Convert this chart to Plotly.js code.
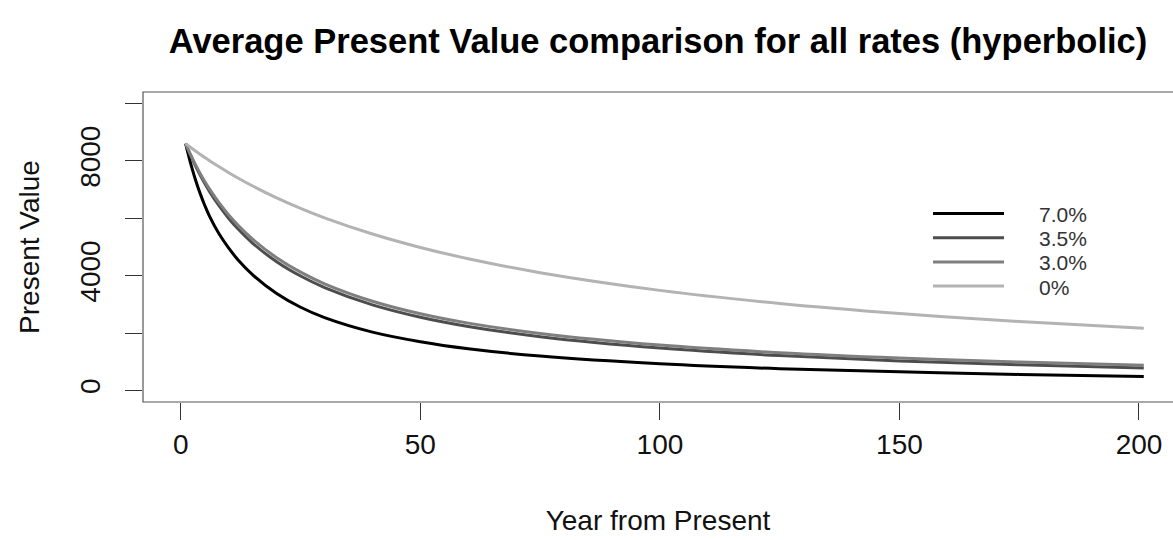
<!DOCTYPE html>
<html>
<head>
<meta charset="utf-8">
<script src="https://cdn.plot.ly/plotly-3.0.1.min.js"></script>
<style>
  html, body { margin: 0; padding: 0; background: #ffffff; }
  #chart { width: 1173px; height: 540px; }
</style>
</head>
<body>
<div id="chart"></div>
<script>
// Years from present (x values)
const years = [1, 2, 3, 4, 5, 6, 8, 10, 12, 15, 20, 25, 30, 40, 50, 60, 75, 100, 125, 150, 175, 201];

// Present value series
const pv7_0 = [8600, 7937, 7369, 6877, 6447, 6067, 5450, 4960, 4540, 4030, 3380, 2900, 2540, 2035, 1700, 1455, 1200, 930, 760, 655, 560, 488];
const pv3_5 = [8600, 8206, 7845, 7516, 7211, 6930, 6429, 5995, 5616, 5130, 4487, 3988, 3588, 2986, 2555, 2233, 1875, 1477, 1216, 1032, 895, 786];
const pv3_0 = [8600, 8226, 7885, 7571, 7281, 7015, 6534, 6115, 5746, 5270, 4627, 4123, 3718, 3111, 2675, 2348, 1985, 1582, 1316, 1130, 990, 878];
const pv0_0 = [8600, 8475, 8353, 8234, 8119, 8008, 7793, 7589, 7396, 7124, 6712, 6346, 6017, 5453, 4985, 4591, 4105, 3489, 3033, 2683, 2405, 2172];

const seriesNames = ["7.0%", "3.5%", "3.0%", "0%"];
const seriesValues = [pv7_0, pv3_5, pv3_0, pv0_0];
const seriesColors = ["#000000", "#4d4d4d", "#7f7f7f", "#b3b3b3"];

// Axis tick labels
const xTickVals = [0, 50, 100, 150, 200];
const xTickText = ["0", "50", "100", "150", "200"];
const yTickVals = [0, 2000, 4000, 6000, 8000, 10000];
const yTickText = ["0", "", "4000", "", "8000", ""];

const FONT = "Liberation Sans, Arial, Helvetica, sans-serif";

const traces = seriesValues.map((vals, i) => ({
  type: "scatter",
  mode: "lines",
  x: years,
  y: vals,
  name: seriesNames[i],
  line: { color: seriesColors[i], width: 3, shape: "spline", smoothing: 1 },
  showlegend: false,
  hoverinfo: "x+y+name"
}));

// Plot geometry (pixels) used to place the drawn legend
const W = 1173, H = 540;
const mL = 143, mR = 0, mT = 92, mB = 138;
const pw = W - mL - mR, ph = H - mT - mB;
const px = v => (v - mL) / pw;
const py = v => (H - mB - v) / ph;

const shapes = [
  { type: "rect", xref: "paper", yref: "paper", x0: 0, x1: 1.05, y0: 0, y1: 1,
    line: { color: "#555555", width: 1.2 }, fillcolor: "rgba(0,0,0,0)", layer: "above" }
];
const annotations = [];
const legTop = 213.5, legStep = 24.2;
seriesNames.forEach((nm, i) => {
  const yy = legTop + i * legStep;
  shapes.push({ type: "line", xref: "paper", yref: "paper",
    x0: px(933), x1: px(1004), y0: py(yy), y1: py(yy),
    line: { color: seriesColors[i], width: 3 } });
  annotations.push({ xref: "paper", yref: "paper", x: px(1037), y: py(yy + 1),
    xanchor: "left", yanchor: "middle", showarrow: false, text: nm,
    font: { family: FONT, size: 21, color: "#333333" } });
});

const layout = {
  width: W, height: H,
  margin: { l: mL, r: mR, t: mT, b: mB, pad: 0 },
  paper_bgcolor: "#ffffff",
  plot_bgcolor: "#ffffff",
  font: { family: FONT, color: "#111111", size: 28 },
  title: {
    text: "<b>Average Present Value comparison for all rates (hyperbolic)</b>",
    font: { family: FONT, size: 34.5, color: "#000000" },
    xref: "paper", x: 0.5, xanchor: "center",
    yref: "container", y: 1 - 41 / H, yanchor: "middle"
  },
  xaxis: {
    range: [-7.9, 207.1],
    tickvals: xTickVals, ticktext: xTickText,
    ticks: "outside", ticklen: 17, tickwidth: 1, tickcolor: "#333333",
    showgrid: false, zeroline: false, showline: false,
    tickfont: { family: FONT, size: 28, color: "#111111" },
    title: { text: "Year from Present", font: { family: FONT, size: 28, color: "#111111" }, standoff: 51 }
  },
  yaxis: {
    range: [-400, 10400],
    tickvals: yTickVals, ticktext: yTickText,
    ticks: "outside", ticklen: 17, tickwidth: 1, tickcolor: "#333333",
    tickangle: -90, ticklabelstandoff: 14,
    showgrid: false, zeroline: false, showline: false,
    tickfont: { family: FONT, size: 28, color: "#111111" },
    title: { text: "Present Value", font: { family: FONT, size: 28, color: "#111111" }, standoff: 26 }
  },
  shapes: shapes,
  annotations: annotations,
  showlegend: false
};

Plotly.newPlot("chart", traces, layout, { displayModeBar: false, staticPlot: true });
</script>
</body>
</html>
